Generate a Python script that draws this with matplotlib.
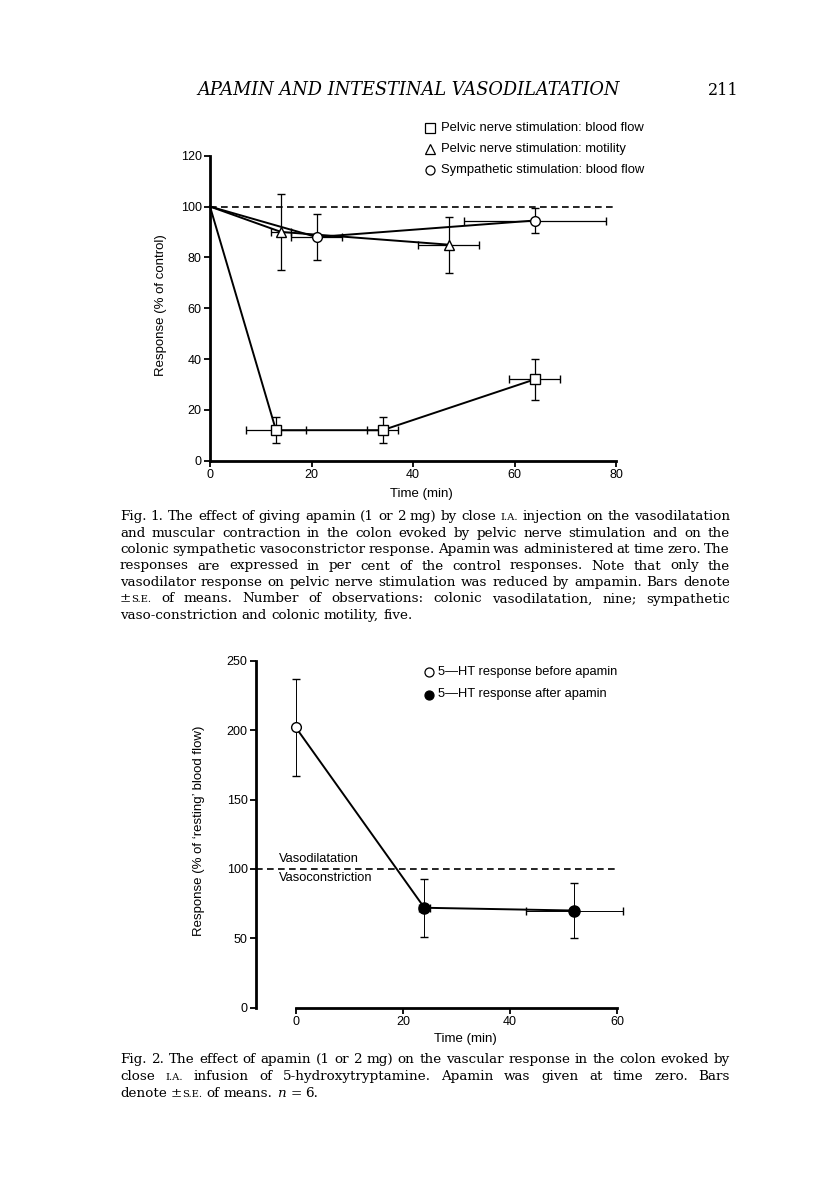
import re
import matplotlib
matplotlib.use('Agg')
import matplotlib.pyplot as plt

# ---- Fig. 1 data (response, % of control) ----
t_flow = [0, 13, 34, 64]
flow = [100, 12, 12, 32]
flow_xerr = [0, 6, 3, 5]
flow_yerr = [0, 5, 5, 8]

t_mot = [0, 14, 47]
mot = [100, 90, 85]
mot_xerr = [0, 2, 6]
mot_yerr = [0, 15, 11]

t_sym = [0, 21, 64]
sym = [100, 88, 94.5]
sym_xerr = [0, 5, 14]
sym_yerr = [0, 9, 5]

fig1_yticks = [0, 20, 40, 60, 80, 100, 120]
fig1_xticks = [0, 20, 40, 60, 80]
fig1_legend = ['Pelvic nerve stimulation: blood flow',
               'Pelvic nerve stimulation: motility',
               'Sympathetic stimulation: blood flow']

# ---- Fig. 2 data (response, % of 'resting' blood flow) ----
t_before = [0]
before = [202]
before_yerr = [35]

t_after = [24, 52]
after = [72, 70]
after_xerr = [1, 9]
after_yerr = [21, 20]

fig2_yticks = [0, 50, 100, 150, 200, 250]
fig2_xticks = [0, 20, 40, 60]
fig2_legend = ['5\u2014HT response before apamin', '5\u2014HT response after apamin']

HEADER = 'APAMIN AND INTESTINAL VASODILATATION'
PAGE = '211'

CAP1 = [
    "Fig. 1. The effect of giving apamin (1 or 2 mg) by close {I.A.} injection on the vasodilatation",
    "and muscular contraction in the colon evoked by pelvic nerve stimulation and on the",
    "colonic sympathetic vasoconstrictor response. Apamin was administered at time zero. The",
    "responses are expressed in per cent of the control responses. Note that only the",
    "vasodilator response on pelvic nerve stimulation was reduced by ampamin. Bars denote",
    "\u00b1{S.E.} of means. Number of observations: colonic vasodilatation, nine; sympathetic",
    "vaso-constriction and colonic motility, five.",
]
CAP2 = [
    "Fig. 2. The effect of apamin (1 or 2 mg) on the vascular response in the colon evoked by",
    "close {I.A.} infusion of 5-hydroxytryptamine. Apamin was given at time zero. Bars",
    "denote \u00b1{S.E.} of means. [n] = 6.",
]

W, H = 816, 1183
SANS = 'Liberation Sans'
SERIF = 'DejaVu Serif'
plt.rcParams['font.family'] = SANS

fig = plt.figure(figsize=(W / 100, H / 100), dpi=100)
fig.patch.set_facecolor('white')


def px_axes(l, t, r, b):
    return fig.add_axes([l / W, 1 - b / H, (r - l) / W, (b - t) / H])


def fx(x):
    return x / W


def fy(y):
    return 1 - y / H


def style_axes(ax):
    for s in ['top', 'right']:
        ax.spines[s].set_visible(False)
    for s in ['left', 'bottom']:
        ax.spines[s].set_linewidth(2.0)
    ax.tick_params(direction='out', length=4, width=1.3, pad=2, labelsize=9)
    for lab in ax.get_xticklabels() + ax.get_yticklabels():
        lab.set_family(SANS)
    ax.patch.set_alpha(0)


# ================= Fig. 1 =================
ax1 = px_axes(210, 155.7, 616, 460.7)
ax1.set_xlim(0, 80)
ax1.set_ylim(0, 120)
ax1.set_xticks(fig1_xticks)
ax1.set_yticks(fig1_yticks)
style_axes(ax1)

ax1.hlines(100, 0, 80, colors='black', linestyles=(0, (4, 2.6)), linewidth=1.2, zorder=1)

eb_kw = dict(color='black', elinewidth=0.9, capsize=2.6, capthick=0.9,
             ls='none', markersize=7, markeredgewidth=1.0,
             markerfacecolor='white', markeredgecolor='black', zorder=4, clip_on=False)

for t, y, xe, ye, m in [(t_flow, flow, flow_xerr, flow_yerr, 's'),
                        (t_mot, mot, mot_xerr, mot_yerr, '^'),
                        (t_sym, sym, sym_xerr, sym_yerr, 'o')]:
    ax1.plot(t, y, color='black', linewidth=1.4, zorder=3, clip_on=False)
    ax1.errorbar(t[1:], y[1:], xerr=xe[1:], yerr=ye[1:], fmt=m, **eb_kw)

for i, (lab, m) in enumerate(zip(fig1_legend, ['s', '^', 'o'])):
    yy = 128 + i * 21
    fig.add_artist(plt.Line2D([fx(430)], [fy(yy)], marker=m, color='black',
                              markerfacecolor='white', markersize=6.5, markeredgewidth=0.9,
                              ls='none'))
    fig.text(fx(441), fy(yy), lab, family=SANS, size=9.4, va='center', ha='left')

fig.text(fx(161), fy(305), 'Response (% of control)', family=SANS, size=9.5,
         rotation=90, ha='center', va='center')
fig.text(fx(421), fy(494), 'Time (min)', family=SANS, size=9.5, ha='center', va='center')

# ================= Fig. 2 =================
ax2 = px_axes(256, 660.7, 617.3, 1007.7)
ax2.set_xlim(-7.41, 60)
ax2.set_ylim(0, 250)
ax2.set_xticks(fig2_xticks)
ax2.set_yticks(fig2_yticks)
style_axes(ax2)
ax2.spines['bottom'].set_bounds(0, 60)
ax2.spines['left'].set_bounds(0, 250)

ax2.hlines(100, -7.41, 60, colors='black', linestyles=(0, (4, 2.6)), linewidth=1.2, zorder=1)
ax2.plot(t_before + t_after, before + after, color='black', linewidth=1.4, zorder=3)

eb2_kw = dict(color='black', elinewidth=0.7, capsize=2.6, capthick=0.8, ls='none',
              markeredgecolor='black', markeredgewidth=1.0, zorder=4, clip_on=False)
ax2.errorbar(t_before, before, yerr=before_yerr, fmt='o', markersize=7,
             markerfacecolor='white', **eb2_kw)
ax2.errorbar(t_after, after, xerr=after_xerr, yerr=after_yerr, fmt='o', markersize=8,
             markerfacecolor='black', **eb2_kw)

for i, (lab, fc) in enumerate(zip(fig2_legend, ['white', 'black'])):
    yy = 672 + i * 22.5
    fig.add_artist(plt.Line2D([fx(429)], [fy(yy)], marker='o', color='black',
                              markerfacecolor=fc, markersize=6.5, markeredgewidth=0.9,
                              ls='none'))
    fig.text(fx(438), fy(yy), lab, family=SANS, size=9.3, va='center', ha='left')

fig.text(fx(279), fy(859), 'Vasodilatation', family=SANS, size=9.3, va='center', ha='left')
fig.text(fx(279), fy(878), 'Vasoconstriction', family=SANS, size=9.3, va='center', ha='left')

fig.text(fx(199), fy(831), 'Response (% of \u2018resting\u2019 blood flow)', family=SANS,
         size=9.5, rotation=90, ha='center', va='center')
fig.text(fx(465), fy(1039), 'Time (min)', family=SANS, size=9.5, ha='center', va='center')

# ================= page text =================
r = fig.canvas.get_renderer()


def make_words(line, size):
    pieces = []
    for w in line.split(' '):
        segs = []
        for s in re.split(r'(\{[^}]*\}|\[[^\]]*\])', w):
            if not s:
                continue
            sz, st = size, 'normal'
            if s[0] == '{':
                s, sz = s[1:-1], size * 0.74
            elif s[0] == '[':
                s, st = s[1:-1], 'italic'
            t = fig.text(0, 0, s, family=SERIF, size=sz, style=st, va='baseline')
            segs.append((t, t.get_window_extent(r).width))
        pieces.append(segs)
    return pieces


def space_width(size):
    a = fig.text(0, 0, 'a a', family=SERIF, size=size)
    b = fig.text(0, 0, 'aa', family=SERIF, size=size)
    sp = a.get_window_extent(r).width - b.get_window_extent(r).width
    a.remove()
    b.remove()
    return sp


def fit_size(line, width, size0=10.0):
    # size at which the line, with natural spaces, just fills the measure
    pieces = make_words(line, size0)
    nat = sum(wd for segs in pieces for _, wd in segs) + space_width(size0) * (len(pieces) - 1)
    for segs in pieces:
        for t, _ in segs:
            t.remove()
    return size0 * width / nat


def place_para(lines, x0, x1, y_first, dy, size):
    space = space_width(size)
    for i, line in enumerate(lines):
        pieces = make_words(line, size)
        widths = [sum(wd for _, wd in segs) for segs in pieces]
        if i == len(lines) - 1:
            gap = space
        else:
            gap = (x1 - x0 - sum(widths)) / (len(pieces) - 1)
        x = x0
        y = y_first + i * dy
        for segs in pieces:
            for t, wd in segs:
                t.set_position((fx(x), fy(y)))
                x += wd
            x += gap


cap_size = fit_size(CAP1[0], 610)
place_para(CAP1, 120, 730, 520, 16.5, cap_size)
place_para(CAP2, 120, 730, 1063, 17, cap_size)

hdr = fig.text(fx(197), fy(95), HEADER, family=SERIF, style='italic', size=11, va='baseline')
hw = hdr.get_window_extent(r).width
hdr.set_size(11 * 423 / hw)
fig.text(fx(708), fy(95), PAGE, family=SERIF, size=11.5, va='baseline')

fig.savefig('out.png', dpi=100, facecolor='white')
